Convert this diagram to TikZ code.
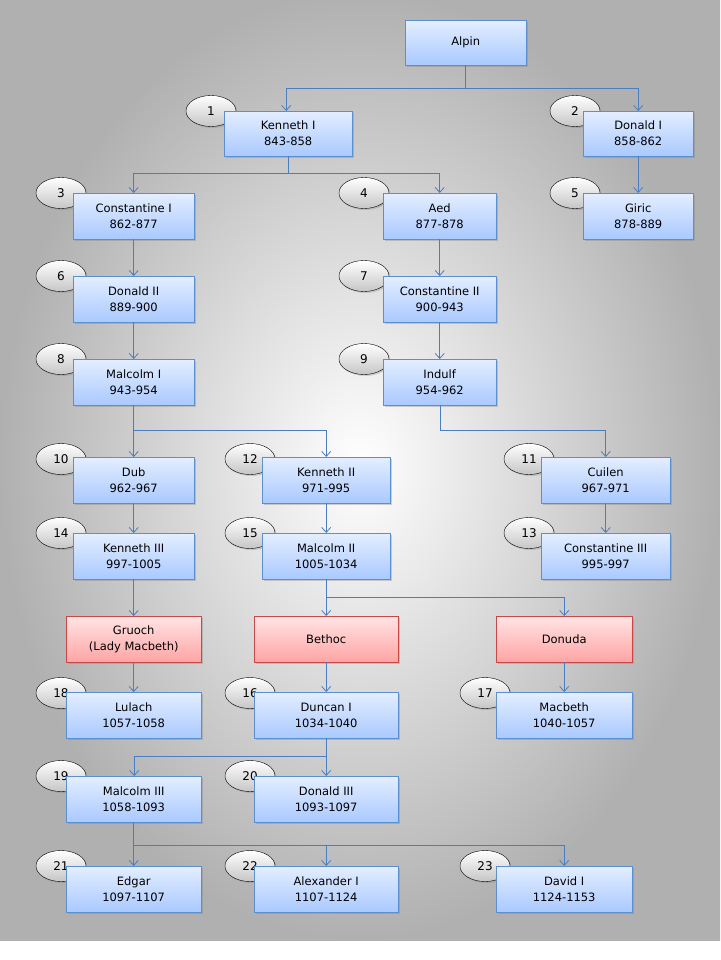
\documentclass[tikz,border=0pt]{standalone}
\usepackage{fontspec}
\setmainfont{DejaVu Sans}
\usetikzlibrary{shadows,arrows.meta,shapes.geometric}
\definecolor{bbord}{HTML}{5B8FD0}
\definecolor{btop}{HTML}{E4EEFF}
\definecolor{bbot}{HTML}{A9C9FF}
\definecolor{pbord}{HTML}{C84848}
\definecolor{ptop}{HTML}{FFE4E4}
\definecolor{pbot}{HTML}{FFA4A4}
\definecolor{lnc}{HTML}{4A7EC0}
\tikzset{
  box/.style={draw=bbord, top color=btop, bottom color=bbot, anchor=north west, align=center, inner sep=0pt,
    font=\fontsize{11.5}{16}\selectfont, drop shadow={shadow xshift=1.5pt,shadow yshift=-1.5pt,opacity=0.35}},
  pbox/.style={box, draw=pbord, top color=ptop, bottom color=pbot},
  num/.style={draw=black, ellipse, top color=white, bottom color=gray!45, minimum width=50pt, minimum height=31pt, inner sep=0pt,
    font=\fontsize{12}{14}\selectfont, drop shadow={shadow xshift=1.5pt,shadow yshift=-1.5pt,opacity=0.3}},
  conn/.style={draw=lnc, line width=0.8pt, -{Straight Barb[length=5pt,width=9pt,line width=0.8pt]}},
}
\newcommand{\bx}[7][box]{\node[#1, minimum width={#5-#3}, minimum height={#6-#4}] (#2) at (#3,#4) {#7};}
\newcommand{\nm}[4]{\node[num] (#1) at (#2,#3) {#4};}
\begin{document}
\begin{tikzpicture}[x=1pt,y=-1pt]
\useasboundingbox (0,0) rectangle (720,960);
\shade[inner color=white, outer color=gray!62] (0,-10) rectangle (720,940);
% ellipses
\nm{e1}{211}{111}{1}
\nm{e2}{575}{111}{2}
\nm{e3}{61}{193}{3}
\nm{e4}{364}{193}{4}
\nm{e5}{575}{193}{5}
\nm{e6}{61}{276}{6}
\nm{e7}{364}{276}{7}
\nm{e8}{61}{359}{8}
\nm{e9}{364}{359}{9}
\nm{e10}{61}{459}{10}
\nm{e12}{250}{459}{12}
\nm{e11}{529}{459}{11}
\nm{e14}{61}{533}{14}
\nm{e15}{250}{533}{15}
\nm{e13}{529}{533}{13}
\nm{e18}{61}{693}{18}
\nm{e16}{250}{693}{16}
\nm{e17}{485}{693}{17}
\nm{e19}{61}{776}{19}
\nm{e20}{250}{776}{20}
\nm{e21}{61}{866}{21}
\nm{e22}{250}{866}{22}
\nm{e23}{485}{866}{23}
% boxes
\bx{alpin}{405}{20}{526}{65}{Alpin}
\bx{k1}{224}{111}{352}{156}{Kenneth I\\843-858}
\bx{d1}{583}{111}{693}{156}{Donald I\\858-862}
\bx{c1}{73}{193}{194}{239}{Constantine I\\862-877}
\bx{aed}{383}{193}{496}{239}{Aed\\877-878}
\bx{giric}{583}{193}{693}{239}{Giric\\878-889}
\bx{d2}{73}{276}{194}{322}{Donald II\\889-900}
\bx{c2}{383}{276}{496}{322}{Constantine II\\900-943}
\bx{m1}{73}{359}{194}{405}{Malcolm I\\943-954}
\bx{indulf}{383}{359}{496}{405}{Indulf\\954-962}
\bx{dub}{73}{457}{194}{503}{Dub\\962-967}
\bx{k2}{262}{457}{390}{503}{Kenneth II\\971-995}
\bx{cuilen}{541}{457}{670}{503}{Cuilen\\967-971}
\bx{k3}{73}{533}{194}{579}{Kenneth III\\997-1005}
\bx{m2}{262}{533}{390}{579}{Malcolm II\\1005-1034}
\bx{c3}{541}{533}{670}{579}{Constantine III\\995-997}
\bx[pbox]{gruoch}{66}{616}{201}{662}{Gruoch\\(Lady Macbeth)}
\bx[pbox]{bethoc}{254}{616}{398}{662}{Bethoc}
\bx[pbox]{donuda}{496}{616}{632}{662}{Donuda}
\bx{lulach}{66}{692}{201}{738}{Lulach\\1057-1058}
\bx{duncan}{254}{692}{398}{738}{Duncan I\\1034-1040}
\bx{macbeth}{496}{692}{632}{738}{Macbeth\\1040-1057}
\bx{m3}{66}{776}{201}{822}{Malcolm III\\1058-1093}
\bx{d3}{254}{776}{398}{822}{Donald III\\1093-1097}
\bx{edgar}{66}{866}{201}{912}{Edgar\\1097-1107}
\bx{alex}{254}{866}{398}{912}{Alexander I\\1107-1124}
\bx{david}{496}{866}{632}{912}{David I\\1124-1153}
% connectors
\draw[conn] (alpin.south) -- ++(0,23) -| ([xshift=-2pt]k1.north);
\draw[conn] (alpin.south) -- ++(0,23) -| (d1.north);
\draw[conn] (k1.south) -- ++(0,17) -| (c1.north);
\draw[conn] (k1.south) -- ++(0,17) -| (aed.north);
\draw[conn] (d1) -- (giric);
\draw[conn] (c1) -- (d2);
\draw[conn] (d2) -- (m1);
\draw[conn] (aed) -- (c2);
\draw[conn] (c2) -- (indulf);
\draw[conn] (m1.south) -- ++(0,25) -| (dub.north);
\draw[conn] (m1.south) -- ++(0,25) -| (k2.north);
\draw[conn] ([xshift=0.5pt]indulf.south) -- ++(0,25) -| (cuilen.north);
\draw[conn] (dub) -- (k3);
\draw[conn] (k2) -- (m2);
\draw[conn] (cuilen) -- (c3);
\draw[conn] (k3) -- (gruoch);
\draw[conn] (m2.south) -- ++(0,18) -| (bethoc.north);
\draw[conn] (m2.south) -- ++(0,18) -| (donuda.north);
\draw[conn] (gruoch) -- (lulach);
\draw[conn] (bethoc) -- (duncan);
\draw[conn] (donuda) -- (macbeth);
\draw[conn] (duncan.south) -- ++(0,18) -| ([xshift=0.5pt]m3.north);
\draw[conn] (duncan.south) -- ++(0,18) -| (d3.north);
\draw[conn] (m3.south) -- ++(0,23) -| (edgar.north);
\draw[conn] (m3.south) -- ++(0,23) -| (alex.north);
\draw[conn] (m3.south) -- ++(0,23) -| (david.north);
\end{tikzpicture}
\end{document}
